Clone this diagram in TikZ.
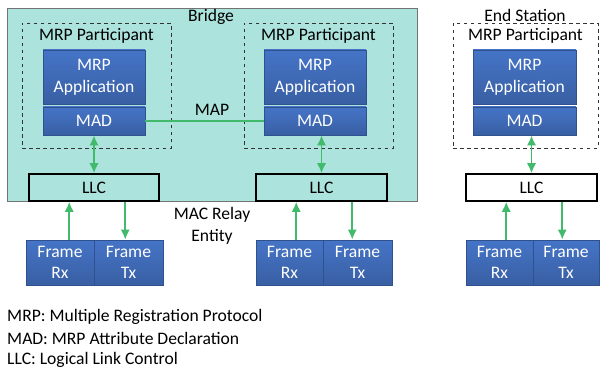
\documentclass[tikz,border=0pt]{standalone}
\usepackage{fontspec}
\setmainfont{Carlito}
\usetikzlibrary{%
  arrows.meta,%
  calc%
}
\tikzset{>={Latex[length=3mm,width=2.8mm]}}
\definecolor{bridgeteal}{RGB}{172,227,221}
\definecolor{mrpblue}{RGB}{69,116,199}
\definecolor{mrpedge}{RGB}{47,82,143}
\definecolor{linkgreen}{RGB}{66,186,108}
\newcommand{\px}{0.03cm}
\tikzset{
  bridgebox/.style={draw=black!55,line width=0.8pt,fill=bridgeteal,
    minimum width=410*\px,minimum height=193*\px},
  partbox/.style={draw=black!80,dashed,line width=0.7pt,
    minimum height=125*\px},
  bluebox/.style={draw=mrpedge,line width=0.8pt,top color=mrpblue,
    bottom color=mrpblue!82!black,text=white,align=center,inner sep=0pt,
    font=\fontsize{15}{18.5}\selectfont},
  llcbox/.style={draw=black,line width=1.3pt,minimum height=27*\px,
    minimum width=131*\px},
  linkarrow/.style={draw=linkgreen,line width=1.6pt},
  lbl/.style={font=\fontsize{15}{19}\selectfont,align=center,inner sep=0pt}
}

\begin{document}
\begin{tikzpicture}[x=\px,y=-\px]
        \useasboundingbox (0,0) rectangle (600,370);
        % bridge
        \node[bridgebox] (bridge) at (212,104.5) {};
        \node[lbl] (bridgetitle) at (211,17) {Bridge};
        \node[partbox,minimum width=149*\px] (part1) at (96.5,85.5) {};
        \node[partbox,minimum width=149*\px] (part2) at (318.5,85.5) {};
        \node[lbl] (ptitle1) at ($(part1.north)+(0,13)$) {MRP Participant};
        \node[lbl] (ptitle2) at ($(part2.north)+(0,13)$) {MRP Participant};
        \node[bluebox,minimum width=102*\px,minimum height=54*\px] (app1)
        at (94,77) {MRP\\Application};
        \node[bluebox,minimum width=102*\px,minimum height=28*\px] (mad1)
        at (94,121) {MAD};
        \node[bluebox,minimum width=102*\px,minimum height=54*\px] (app2)
        at (315,77) {MRP\\Application};
        \node[bluebox,minimum width=102*\px,minimum height=28*\px] (mad2)
        at (315,121) {MAD};
        \node[llcbox,lbl,minimum width=130*\px,minimum height=27*\px] (llc1)
        at (94,187.5) {LLC};
        \node[llcbox,lbl,minimum height=27*\px] (llc2) at (321.5,187.5) {LLC};
        \draw[linkarrow] (mad1.east) -- (mad2.west);
        \node[lbl] (maplbl) at (212,110) {MAP};
        \node[lbl] (relaylbl) at (212,226) {MAC Relay\\Entity};
        % end station
        \node[lbl] (endtitle) at (525,15) {End Station};
        \node[partbox,minimum width=145*\px] (part3) at (525.5,85.5) {};
        \node[lbl] (ptitle3) at ($(part3.north)+(0,13)$) {MRP Participant};
        \node[bluebox,minimum width=103*\px,minimum height=54*\px] (app3)
        at (524.5,77) {MRP\\Application};
        \node[bluebox,minimum width=103*\px,minimum height=28*\px] (mad3)
        at (524.5,121) {MAD};
        \node[llcbox,lbl,fill=white] (llc3) at (531.5,187.5) {LLC};
        % frames
        \node[bluebox,minimum width=68*\px,minimum height=45*\px] (rx1)
        at (60,262.5) {Frame\\Rx};
        \node[bluebox,minimum width=69*\px,minimum height=45*\px] (tx1)
        at (128.5,262.5) {Frame\\Tx};
        \node[bluebox,minimum width=67*\px,minimum height=45*\px] (rx2)
        at (289.5,262.5) {Frame\\Rx};
        \node[bluebox,minimum width=69*\px,minimum height=45*\px] (tx2)
        at (357.5,262.5) {Frame\\Tx};
        \node[bluebox,minimum width=67*\px,minimum height=45*\px] (rx3)
        at (499.5,262.5) {Frame\\Rx};
        \node[bluebox,minimum width=66*\px,minimum height=45*\px] (tx3)
        at (566,262.5) {Frame\\Tx};
        % connections
        \foreach \i in {1,2,3} {
          \draw[linkarrow,<->] (llc\i.north) -- (llc\i.north |- mad\i.south);
          \coordinate (up\i) at ($(llc\i.south west)+(41,0)$);
          \coordinate (down\i) at ($(llc\i.south west)+(97,0)$);
          \draw[linkarrow,->] (up\i |- rx\i.north) -- (up\i);
          \draw[linkarrow,->] (down\i) -- (down\i |- tx\i.north);
        }
        % legend
        \node[lbl,anchor=west] (leg1) at (7,317) {MRP: Multiple Registration Protocol};
        \node[lbl,anchor=west] (leg2) at (7,338) {MAD: MRP Attribute Declaration};
        \node[lbl,anchor=west] (leg3) at (7,360) {LLC: Logical Link Control};
      \end{tikzpicture}
\end{document}
